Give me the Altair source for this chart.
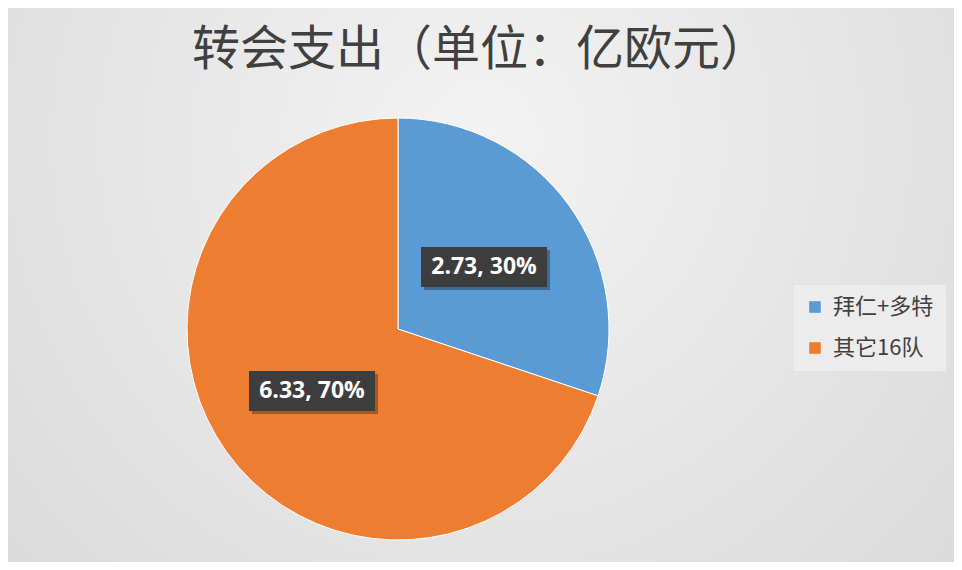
import altair as alt
import pandas as pd

TITLE = "转会支出（单位：亿欧元）"
categories = ["拜仁+多特", "其它16队"]
values = [2.73, 6.33]
colors = ["#5B9BD5", "#ED7D31"]

W, H = 946, 554
CX, CY, R = 390, 321, 211
LR = 106
BW, BH = 126, 40

df = pd.DataFrame({"team": categories, "value": values, "order": list(range(len(categories)))})

bg = alt.Chart(pd.DataFrame({"k": [0]})).mark_rect(
    fill=alt.Gradient(
        gradient="radial",
        stops=[alt.GradientStop(color="#f3f3f3", offset=0), alt.GradientStop(color="#d4d4d4", offset=1)],
        x1=0.5, y1=0.35, r1=0, x2=0.5, y2=0.35, r2=0.85,
    )
).encode(x=alt.value(-8), x2=alt.value(W + 8), y=alt.value(-8), y2=alt.value(H + 8))

title = alt.Chart(pd.DataFrame({"t": [TITLE]})).mark_text(
    font="Noto Sans CJK SC", fontSize=48, fontWeight="normal", color="#404040", align="left", baseline="middle"
).encode(x=alt.value(184), y=alt.value(43), text="t:N")

base = alt.Chart(df)

pie = base.mark_arc(outerRadius=R, stroke="white", strokeWidth=1).encode(
    theta=alt.Theta("value:Q", stack=True),
    color=alt.Color(
        "team:N",
        scale=alt.Scale(domain=categories, range=colors),
        sort=categories,
        legend=alt.Legend(
            title=None, orient="none", legendX=784, legendY=276,
            symbolType="square", symbolSize=135, symbolStrokeWidth=0,
            labelFont="Noto Sans CJK SC", labelFontSize=22, labelColor="#404040",
            labelOffset=7, rowPadding=19, padding=12,
            fillColor="#ececec", strokeColor="#e2e2e2",
        ),
    ),
    order=alt.Order("order:Q"),
    x=alt.value(CX), y=alt.value(CY),
)

lab = base.transform_joinaggregate(total="sum(value)").transform_window(
    cum="sum(value)", sort=[alt.SortField("order")]
).transform_calculate(
    mid="(datum.cum - datum.value/2)/datum.total*2*PI",
).transform_calculate(
    lx=f"{CX} + {LR}*sin(datum.mid)",
    ly=f"{CY} - {LR}*cos(datum.mid)",
    label="format(datum.value, '.2f') + ', ' + format(datum.value/datum.total, '.0%')",
).transform_calculate(
    bx1=f"datum.lx - {BW/2}", bx2=f"datum.lx + {BW/2}",
    by1=f"datum.ly - {BH/2}", by2=f"datum.ly + {BH/2}",
    sx1=f"datum.lx - {BW/2} + 3", sx2=f"datum.lx + {BW/2} + 3",
    sy1=f"datum.ly - {BH/2} + 3", sy2=f"datum.ly + {BH/2} + 3",
)

shadow = lab.mark_rect(color="#000000", opacity=0.3).encode(
    x=alt.X("sx1:Q", scale=None, axis=None), x2="sx2:Q",
    y=alt.Y("sy1:Q", scale=None, axis=None), y2="sy2:Q",
)
box = lab.mark_rect(color="#3d3d3d").encode(
    x=alt.X("bx1:Q", scale=None, axis=None), x2="bx2:Q",
    y=alt.Y("by1:Q", scale=None, axis=None), y2="by2:Q",
)
txt = lab.mark_text(font="Open Sans", fontSize=23, fontWeight="bold", color="white", baseline="middle").encode(
    x=alt.X("lx:Q", scale=None, axis=None),
    y=alt.Y("ly:Q", scale=None, axis=None),
    text="label:N",
)

chart = alt.layer(bg, title, pie, shadow, box, txt).properties(
    width=W, height=H, padding=0, autosize=alt.AutoSizeParams(type="none"), background="#e0e0e0"
).configure_view(stroke=None)

chart.save("out.html", embed_options={"renderer": "svg", "actions": False})
